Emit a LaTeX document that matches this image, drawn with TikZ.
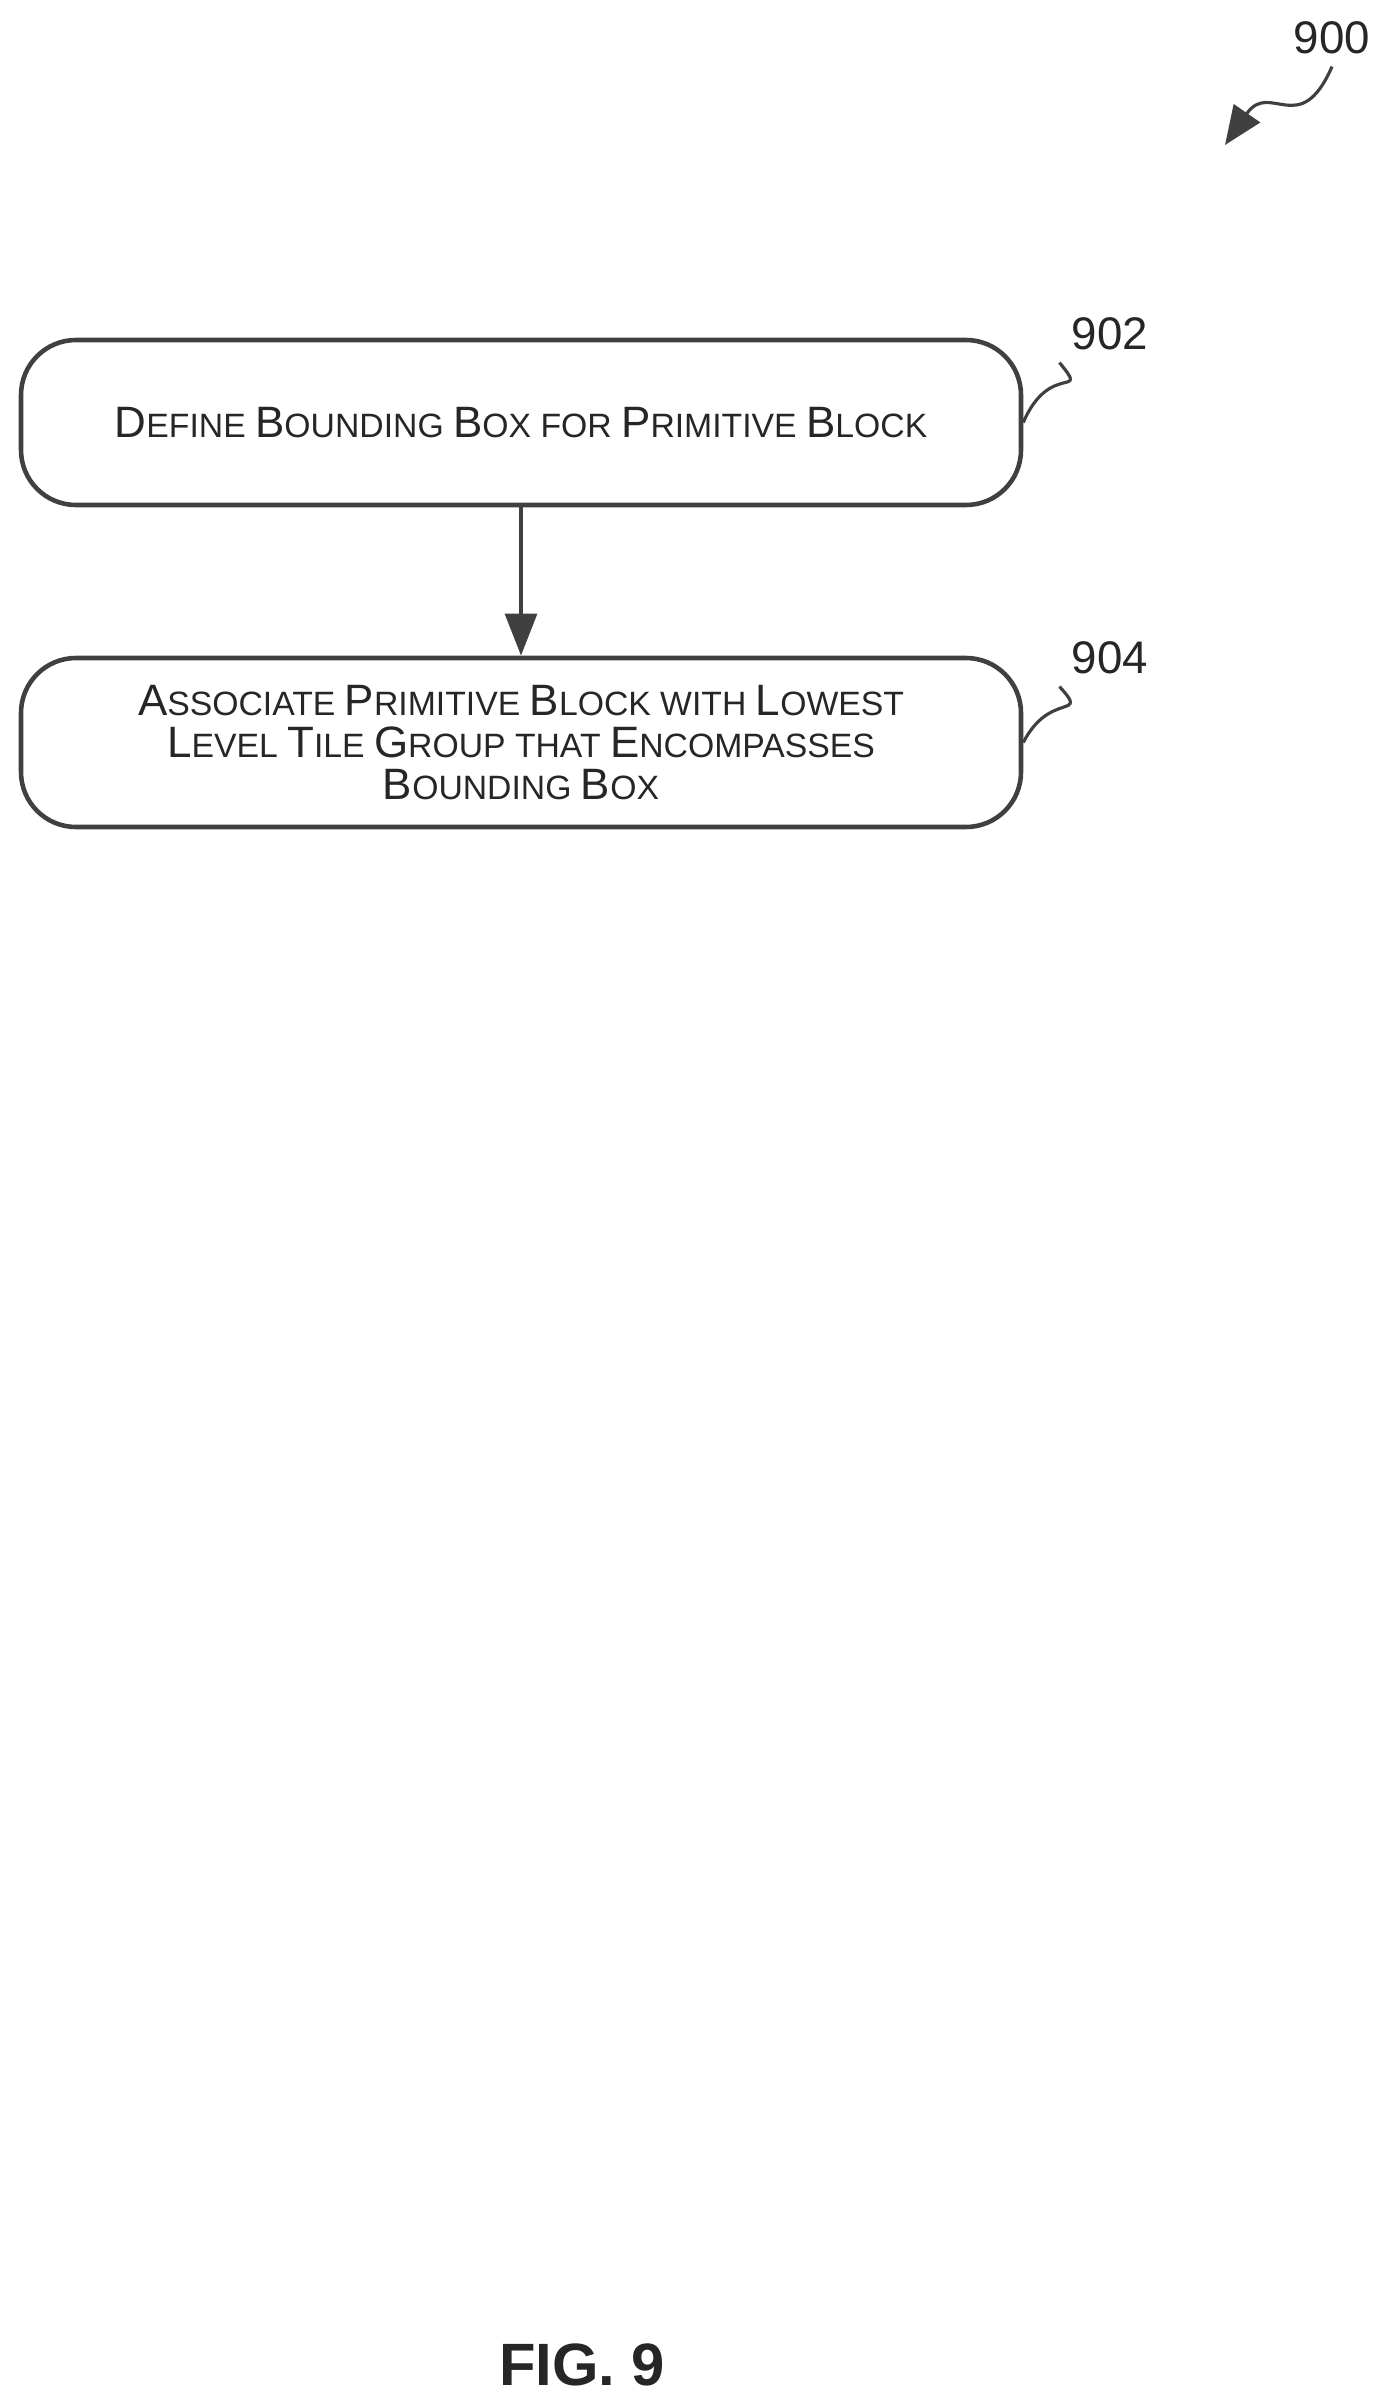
\documentclass[tikz,border=0pt]{standalone}
\usepackage{fontspec}
\setmainfont{Liberation Sans}
\usetikzlibrary{positioning,arrows.meta}
\newcommand{\bc}[1]{{\fontsize{12.5}{14}\selectfont #1}}
\tikzset{
  stepbox/.style={draw=black!75, line width=1.3pt, rounded corners=0.55cm,
    minimum width=10cm, align=center, font=\fontsize{9.6}{14}\selectfont, text=black!85},
  lead/.style={draw=black!75, line width=0.9pt},
  reflabel/.style={font=\fontsize{13}{15}\selectfont, text=black!85}
}
\begin{document}
\begin{tikzpicture}
    \useasboundingbox (0,0) rectangle (13.87,-23.99);

    \node[stepbox, minimum height=1.65cm] (S902) at (5.21,-4.225)
      {\bc{D}EFINE \bc{B}OUNDING \bc{B}OX FOR \bc{P}RIMITIVE \bc{B}LOCK};
    \node[stepbox, minimum height=1.69cm] (S904) at (5.21,-7.425)
      {\bc{A}SSOCIATE \bc{P}RIMITIVE \bc{B}LOCK WITH \bc{L}OWEST\\[-2pt]
       \bc{L}EVEL \bc{T}ILE \bc{G}ROUP THAT \bc{E}NCOMPASSES\\[-2pt]
       \bc{B}OUNDING \bc{B}OX};

    \draw[lead, line width=1.3pt, -{Triangle[width=9pt,length=12pt]}] (S902) -- (S904);

    % reference numerals
    \node[reflabel] (L902) at (11.1,-3.34) {902};
    \node[reflabel] (L904) at (11.1,-6.58) {904};
    \node[reflabel] (L900) at (13.32,-0.38) {900};

    \draw[lead] (S902.east) .. controls (10.5,-3.6) and (10.9,-4.0) .. (L902.south west);
    \draw[lead] (S904.east) .. controls (10.5,-6.9) and (10.9,-7.2) .. (L904.south west);

    \coordinate (T900) at (12.25,-1.45);
    \draw[lead, -{Triangle[width=9pt,length=11pt]}] (L900.south) .. controls (13.0,-1.4) and (12.7,-0.8) .. (T900);

    \node[font=\bfseries\fontsize{17}{20}\selectfont, text=black!85] (FIG) at (5.82,-23.65) {FIG. 9};
\end{tikzpicture}
\end{document}
